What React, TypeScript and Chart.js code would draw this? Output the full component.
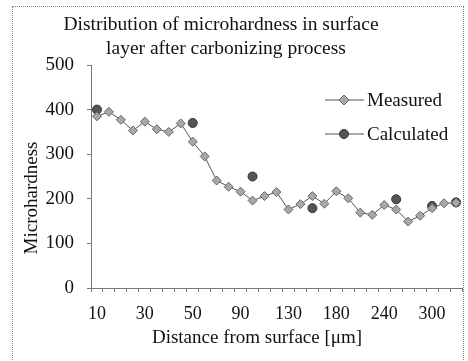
import React, { useEffect, useRef } from "react";
import { Chart, registerables } from "chart.js";

Chart.register(...registerables);

const categories = [
  "10", "15", "20", "25", "30", "35", "40", "45", "50", "60", "70", "80", "90",
  "100", "110", "120", "130", "140", "150", "160", "180", "195", "210", "225",
  "240", "255", "270", "285", "300", "315", "330",
];

const measured = [
  385, 395, 377, 353, 373, 356, 350, 369, 328, 295, 241, 227, 216, 196, 206,
  215, 176, 188, 206, 189, 217, 201, 169, 164, 186, 176, 149, 162, 179, 190, 191,
];

const calculated: (number | null)[] = [
  400, null, null, null, null, null, null, null, 370, null, null, null, null,
  250, null, null, null, null, 179, null, null, null, null, null, null, 199,
  null, null, 184, null, 192,
];

const titleLines = [
  "Distribution of microhardness in surface",
  "layer after carbonizing process",
];
const yTitle = "Microhardness";
const xTitle = "Distance from surface [\u03bcm]";
const yTicks = [0, 100, 200, 300, 400, 500];

const FONT = "'Liberation Serif', 'Times New Roman', serif";

const textPlugin = {
  id: "texts",
  afterDraw(chart: any) {
    const ctx = chart.ctx;
    ctx.save();
    ctx.fillStyle = "#111";
    ctx.font = `19.5px ${FONT}`;
    ctx.textAlign = "center";
    ctx.textBaseline = "middle";
    ctx.fillText(titleLines[0], 221, 25);
    ctx.fillText(titleLines[1], 226, 49);

    ctx.font = `19px ${FONT}`;
    ctx.fillText(xTitle, 257, 338);

    ctx.save();
    ctx.translate(32, 198);
    ctx.rotate(-Math.PI / 2);
    ctx.fillText(yTitle, 0, 0);
    ctx.restore();

    // legend
    const items = [
      { label: "Measured", y: 100, style: "rectRot", fill: "#a8a8a8", stroke: "#666", r: 4 },
      { label: "Calculated", y: 134, style: "circle", fill: "#555", stroke: "#333", r: 4.5 },
    ];
    ctx.textAlign = "left";
    items.forEach((it) => {
      ctx.strokeStyle = "#555";
      ctx.lineWidth = 1;
      ctx.beginPath();
      ctx.moveTo(325, it.y);
      ctx.lineTo(364, it.y);
      ctx.stroke();
      ctx.fillStyle = it.fill;
      ctx.strokeStyle = it.stroke;
      ctx.beginPath();
      if (it.style === "circle") {
        ctx.arc(344, it.y, it.r, 0, Math.PI * 2);
      } else {
        ctx.moveTo(344, it.y - it.r - 1);
        ctx.lineTo(344 + it.r + 1, it.y);
        ctx.lineTo(344, it.y + it.r + 1);
        ctx.lineTo(344 - it.r - 1, it.y);
        ctx.closePath();
      }
      ctx.fill();
      ctx.stroke();
      ctx.fillStyle = "#111";
      ctx.font = `19px ${FONT}`;
      ctx.fillText(it.label, 367, it.y + 1);
    });
    ctx.restore();
  },
};

export default function App() {
  const ref = useRef<HTMLCanvasElement | null>(null);
  useEffect(() => {
    if (!ref.current) return;
    const chart = new Chart(ref.current, {
      type: "line",
      data: {
        labels: categories,
        datasets: [
          {
            label: "Measured",
            data: measured,
            borderColor: "#555",
            borderWidth: 1,
            pointStyle: "rectRot",
            pointRadius: 4.5,
            pointBackgroundColor: "#a8a8a8",
            pointBorderColor: "#666",
            pointBorderWidth: 1,
            tension: 0,
          },
          {
            label: "Calculated",
            data: calculated,
            showLine: false,
            pointStyle: "circle",
            pointRadius: 4.5,
            pointBackgroundColor: "#555",
            pointBorderColor: "#333",
            pointBorderWidth: 1,
            spanGaps: false,
          },
        ],
      },
      options: {
        animation: false,
        responsive: false,
        maintainAspectRatio: false,
        layout: { padding: { top: 65, right: 6, left: 0, bottom: 0 } },
        plugins: {
          legend: { display: false },
          title: { display: false },
          tooltip: { enabled: false },
        },
        scales: {
          x: {
            type: "category",
            offset: true,
            grid: {
              offset: true,
              drawOnChartArea: false,
              drawTicks: true,
              tickLength: 4,
              color: "#777",
            },
            border: { color: "#777", dash: [2, 2], width: 1 },
            ticks: {
              autoSkip: false,
              maxRotation: 0,
              padding: 11,
              color: "#111",
              font: { family: FONT, size: 18 },
              callback: (_v: any, i: number) => (i % 4 === 0 ? categories[i] : ""),
            },
            afterFit: (s: any) => {
              s.height = 73;
            },
          },
          y: {
            min: 0,
            max: 500,
            afterBuildTicks: (s: any) => {
              s.ticks = yTicks.map((v) => ({ value: v }));
            },
            grid: {
              drawOnChartArea: false,
              drawTicks: true,
              tickLength: 4,
              color: "#777",
            },
            border: { color: "#777", dash: [2, 2], width: 1 },
            ticks: {
              padding: 13,
              color: "#111",
              font: { family: FONT, size: 19 },
            },
            afterFit: (s: any) => {
              s.width = 91;
            },
          },
        },
      },
      plugins: [textPlugin],
    });
    return () => chart.destroy();
  }, []);
  return (
    <div style={{ position: "absolute", left: 0, top: 0, width: 468, height: 361, background: "#fff" }}>
      <canvas ref={ref} width={468} height={361} style={{ position: "absolute", left: 0, top: 0 }} />
      <div
        style={{
          position: "absolute",
          left: 12,
          top: 6,
          width: 452,
          height: 370,
          border: "1px dotted #888",
          boxSizing: "border-box",
          pointerEvents: "none",
        }}
      />
    </div>
  );
}
